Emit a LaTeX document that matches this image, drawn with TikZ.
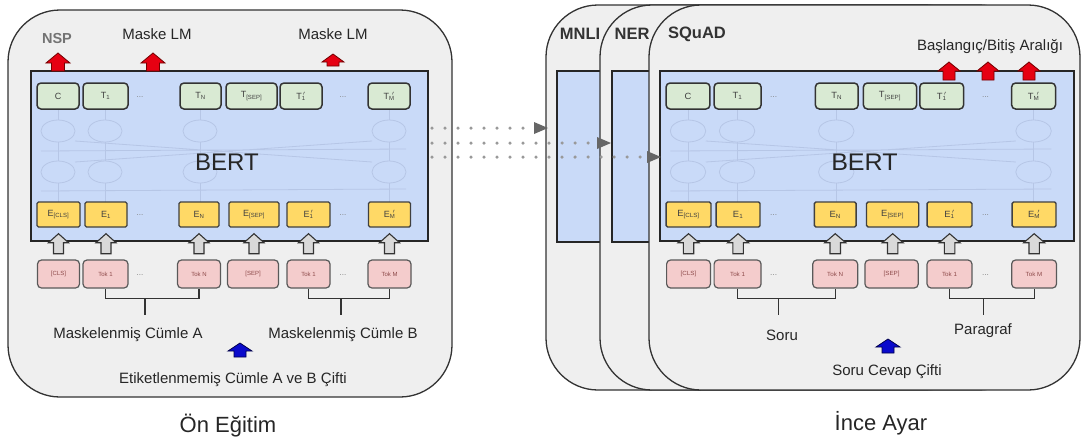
\documentclass[tikz,border=0pt]{standalone}
\usepackage{fontspec}
\setmainfont{Liberation Sans}
\usetikzlibrary{arrows.meta}

\definecolor{panelgray}{HTML}{EFEFEF}
\definecolor{bertblue}{HTML}{C9DAF8}
\definecolor{tgreen}{HTML}{D9EAD3}
\definecolor{eyellow}{HTML}{FFD966}
\definecolor{tokpink}{HTML}{F4CCCC}
\definecolor{toktext}{HTML}{8E4B4B}
\definecolor{netline}{HTML}{B6C6E6}
\definecolor{redarr}{HTML}{E60012}
\definecolor{bluearr}{HTML}{0A0ACC}

\tikzset{
  panel/.style={draw=black!80, line width=1.3pt, fill=panelgray, rounded corners=52pt, inner sep=0pt},
  bluebox/.style={draw=black!85, line width=1.8pt, fill=bertblue, inner sep=0pt},
  tbox/.style={draw=black!80, line width=1.5pt, fill=tgreen, rounded corners=4pt, minimum height=26pt, inner sep=0pt, font=\fontsize{9}{9}\selectfont, text=black!75},
  ebox/.style={draw=black!75, line width=1.4pt, fill=eyellow, rounded corners=1.5pt, minimum height=25pt, inner sep=0pt, font=\fontsize{9}{9}\selectfont, text=black!75},
  tokbox/.style={draw=black!65, line width=1.2pt, fill=tokpink, rounded corners=4pt, minimum height=28pt, inner sep=0pt, font=\fontsize{6}{6}\selectfont, text=toktext},
  gap/.style={font=\fontsize{8}{8}\selectfont, text=black!50},
  net/.style={draw=netline, line width=0.8pt},
  bracket/.style={draw=black!80, line width=1.3pt},
  lbl/.style={font=\fontsize{15}{18}\selectfont, text=black!85},
  task/.style={font=\bfseries\fontsize{16.5}{19}\selectfont, text=black!80},
  title/.style={font=\fontsize{22}{26}\selectfont, text=black!85},
  redup/.style={fill=redarr, draw=red!45!black, line width=0.8pt},
  grayup/.style={fill=black!15, draw=black!80, line width=1.1pt},
  blueup/.style={fill=bluearr, draw=blue!30!black, line width=0.8pt},
  dotline/.style={draw=black!40, line width=3.5pt, line cap=round, dash pattern=on 0pt off 13pt,
    -{Triangle[length=14pt, width=12pt, fill=black!60, line width=0pt]}}
}

% block arrow pointing up: style, tip, offset, head half width, head length, shaft half width, shaft length
\newcommand{\blockup}[7]{%
  \filldraw[#1] (#2) ++(0,#3) -- ++(#4,#5) -- ++(#6-#4,0) -- ++(0,#7) -- ++(-2*#6,0) -- ++(0,-#7) -- ++(#6-#4,0) -- cycle;}

\newcommand{\prm}[2]{#1\textsubscript{#2}\llap{$^{\prime}$}}

\newcommand{\bertblock}{%
  \node[bluebox, minimum width=397pt, minimum height=170pt] (body) at (229.5,156) {};
  \foreach \cx in {58,105,200,389}{%
    \draw[net] (\cx,131) ellipse (17 and 11);
    \draw[net] (\cx,172) ellipse (17 and 11);
    \draw[net] (\cx,109) -- (\cx,120) (\cx,142) -- (\cx,161) (\cx,183) -- (\cx,202);
  }
  \draw[net] (41,151) -- (406,149) (41,191) -- (406,189) (75,141) -- (372,162) (75,162) -- (372,141);
  \node[font=\fontsize{24}{28}\selectfont, text=black!85] (bert) at (227,162) {BERT};
  \node[tbox, minimum width=42pt] (c) at (58,96) {C};
  \node[tbox, minimum width=45pt] (t1) at (105.5,96) {T\textsubscript{1}};
  \node[gap] (tdots) at (140,97) {...};
  \node[tbox, minimum width=41pt] (tn) at (200.5,96) {T\textsubscript{N}};
  \node[tbox, minimum width=51pt] (tsep) at (251.5,96) {T\textsubscript{[SEP]}};
  \node[tbox, minimum width=42pt] (t1b) at (301,96) {\prm{T}{1}};
  \node[gap] (tdotsb) at (343,97) {...};
  \node[tbox, minimum width=42pt] (tmb) at (389,96) {\prm{T}{M}};
  \node[ebox, minimum width=43pt] (ecls) at (58.5,214.5) {E\textsubscript{[CLS]}};
  \node[ebox, minimum width=42pt] (e1) at (106,214.5) {E\textsubscript{1}};
  \node[gap] (edots) at (140,215) {...};
  \node[ebox, minimum width=40pt] (en) at (199,214.5) {E\textsubscript{N}};
  \node[ebox, minimum width=50pt] (esep) at (254,214.5) {E\textsubscript{[SEP]}};
  \node[ebox, minimum width=43pt] (e1b) at (308.5,214.5) {\prm{E}{1}};
  \node[gap] (edotsb) at (343,215) {...};
  \node[ebox, minimum width=42pt] (emb) at (389.5,214.5) {\prm{E}{M}};
  \node[tokbox, minimum width=42pt] (tokcls) at (58.5,274) {[CLS]};
  \node[tokbox, minimum width=45pt] (tok1) at (105.5,274) {Tok 1};
  \node[gap] (kdots) at (140,275) {...};
  \node[tokbox, minimum width=43pt] (tokn) at (199,274) {Tok N};
  \node[tokbox, minimum width=51pt] (toksep) at (253,274) {[SEP]};
  \node[tokbox, minimum width=43pt] (tok1b) at (308.5,274) {Tok 1};
  \node[gap] (kdotsb) at (343,275) {...};
  \node[tokbox, minimum width=43pt] (tokmb) at (389.5,274) {Tok M};
  \foreach \k in {cls,1,n,sep,1b,mb}{%
    \blockup{grayup}{e\k.south}{6}{10}{9}{5}{11}
  }
  \draw[bracket] (tok1.south) -- ++(0,10) -| (tokn.south);
  \draw[bracket] (145,298) -- (145,315);
  \draw[bracket] (tok1b.south) -- ++(0,10) -| (tokmb.south);
  \draw[bracket] (341,298) -- (341,315);
}

\begin{document}
\begin{tikzpicture}[x=1pt, y=-1pt]
  \useasboundingbox[fill=white] (0,0) rectangle (1085,440);

  \node[panel, minimum width=444pt, minimum height=387pt] (pre) at (230,203.5) {};
  \begin{scope}[name prefix=pre-]
    \bertblock
  \end{scope}

  \node[panel, minimum width=431pt, minimum height=385pt] (mnli) at (761.5,197.5) {};
  \draw[bluebox] (557,71) rectangle (640,242);
  \node[panel, minimum width=431pt, minimum height=385pt] (ner) at (815.5,197.5) {};
  \draw[bluebox] (612,71) rectangle (700,242);
  \node[panel, minimum width=431pt, minimum height=385pt] (squad) at (864.5,197.5) {};
  \begin{scope}[name prefix=ft-, shift={(627.45,0)}, xscale=1.044, transform shape]
    \bertblock
  \end{scope}

  \node[task, font=\bfseries\fontsize{14.5}{17}\selectfont, text=black!55] (nsp) at (57,39) {NSP};
  \node[lbl] (mlm1) at (157,34) {Maske LM};
  \node[lbl] (mlm2) at (333,34) {Maske LM};
  \node[lbl] (senta) at (128,335) {Maskelenmiş Cümle A};
  \node[lbl] (sentb) at (343,335) {Maskelenmiş Cümle B};
  \node[lbl] (pair) at (233,380) {Etiketlenmemiş Cümle A ve B Çifti};
  \node[title] (pretitle) at (228,426) {Ön Eğitim};

  \node[task] (mnlilbl) at (580,34) {MNLI};
  \node[task] (nerlbl) at (632,34) {NER};
  \node[task] (squadlbl) at (697,34) {SQuAD};
  \node[lbl] (span) at (990,47) {Başlangıç/Bitiş Aralığı};
  \node[lbl] (soru) at (782,335) {Soru};
  \node[lbl] (para) at (983,331) {Paragraf};
  \node[lbl] (qa) at (887,372) {Soru Cevap Çifti};
  \node[title] (fttitle) at (881,423) {İnce Ayar};

  \blockup{redup}{58,53}{0}{12}{10}{6.5}{8}
  \blockup{redup}{153,53}{0}{12}{10}{6.5}{8}
  \blockup{redup}{333,54}{0}{11}{8}{6}{4}
  \blockup{redup}{949,62}{0}{11}{9}{6}{9}
  \blockup{redup}{988,62}{0}{11}{9}{6}{9}
  \blockup{redup}{1029,62}{0}{11}{9}{6}{9}
  \blockup{blueup}{240,343}{0}{12}{8}{6}{6}
  \blockup{blueup}{888,339}{0}{12}{8}{6}{6}

  \coordinate (d1s) at (432,128);
  \coordinate (d2s) at (432,143);
  \coordinate (d3s) at (432,157);
  \coordinate (d1e) at (548,128);
  \coordinate (d2e) at (611,143);
  \coordinate (d3e) at (661,157);
  \draw[dotline] (d1s) -- (d1e);
  \draw[dotline] (d2s) -- (d2e);
  \draw[dotline] (d3s) -- (d3e);
\end{tikzpicture}
\end{document}
